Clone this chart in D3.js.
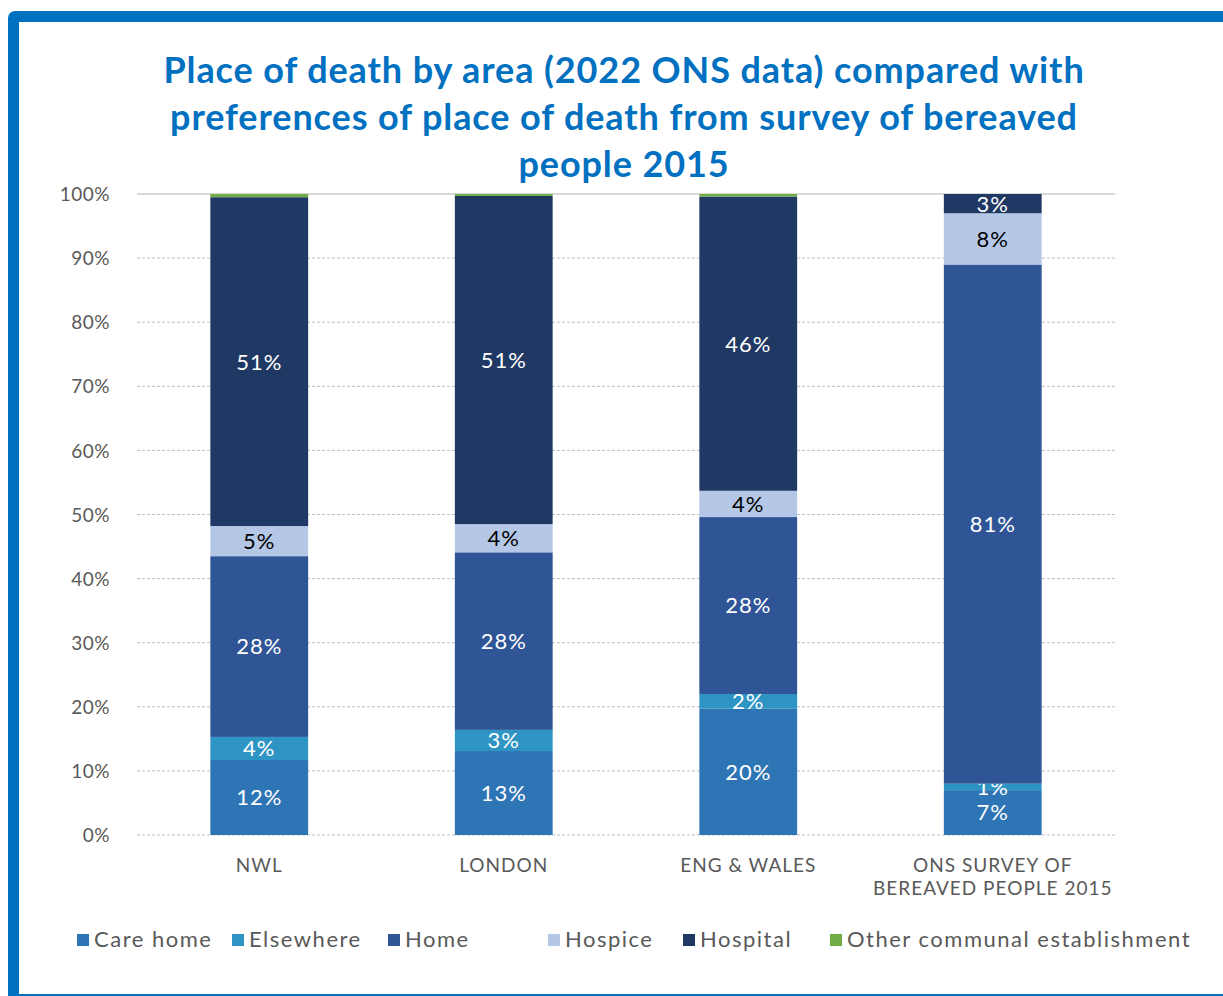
<!DOCTYPE html>
<html><head><meta charset="utf-8">
<script src="https://cdn.jsdelivr.net/npm/d3@7"></script>
<style>body{margin:0;background:#fff;} svg{display:block;}</style>
</head><body><svg id="c" width="1223" height="996"></svg>
<script>
const categories = ["NWL", "LONDON", "ENG & WALES", "ONS SURVEY OF|BEREAVED PEOPLE 2015"];
const seriesNames = ["Care home", "Elsewhere", "Home", "Hospice", "Hospital", "Other communal establishment"];
const careHome  = [11.7, 13.1, 19.7, 7.0];
const elsewhere = [3.6, 3.3, 2.3, 1.0];
const home      = [28.2, 27.7, 27.6, 81.0];
const hospice   = [4.7, 4.4, 4.1, 8.0];
const hospital  = [51.3, 51.2, 45.9, 3.0];
const other     = [0.5, 0.3, 0.4, 0.0];
const labelsShown = [true, true, true, true, true, false];
const yTicks = [0, 10, 20, 30, 40, 50, 60, 70, 80, 90, 100];
const titleLines = ["Place of death by area (2022 ONS data) compared with", "preferences of place of death from survey of bereaved", "people 2015"];

const colors = ["#2E75B6", "#2E94C4", "#2F5597", "#B4C7E7", "#203864", "#70AD47"];
const labelColors = ["#fff", "#fff", "#fff", "#000", "#fff", "#fff"];
const seriesVals = [careHome, elsewhere, home, hospice, hospital, other];

const svg = d3.select("#c");
const FONT = "Lato, 'Open Sans', sans-serif";

// frame
svg.append("rect").attr("x", 8).attr("y", 11).attr("width", 1400).attr("height", 994).attr("rx", 7).attr("fill", "#0070C0");
svg.append("rect").attr("x", 19).attr("y", 22).attr("width", 1400).attr("height", 972).attr("fill", "#fff");

// title
const title = svg.append("text").attr("text-anchor", "middle").attr("font-family", FONT)
  .attr("font-weight", "bold").attr("font-size", 36).attr("letter-spacing", 0.9).attr("fill", "#0070C0");
const titleY = [83, 130, 177];
titleLines.forEach((t, i) => title.append("tspan").attr("x", 624).attr("y", titleY[i]).text(t));

const data = categories.map((c, i) => {
  const o = {cat: c};
  seriesNames.forEach((s, j) => o[s] = seriesVals[j][i]);
  return o;
});
const stack = d3.stack().keys(seriesNames)(data);

const x = d3.scaleBand().domain(categories).range([137, 1115]).paddingInner(0.6).paddingOuter(0.3);
const y = d3.scaleLinear().domain([0, 100]).range([835, 194]);

// gridlines
const grid = svg.append("g");
yTicks.forEach(t => {
  grid.append("line").attr("x1", 137).attr("x2", 1115).attr("y1", y(t)).attr("y2", y(t))
    .attr("stroke", t === 100 ? "#d9d9d9" : "#bfbfbf").attr("stroke-width", t === 100 ? 2 : 1)
    .attr("stroke-dasharray", t === 100 ? null : "3,2");
});

// y axis labels
const yAxis = d3.axisLeft(y).tickValues(yTicks).tickFormat(d => d + "%").tickSize(0).tickPadding(0);
const ya = svg.append("g").attr("transform", "translate(110,0)").call(yAxis);
ya.select(".domain").remove();
ya.selectAll("text").attr("font-family", FONT).attr("font-size", 19).attr("letter-spacing", 0.5)
  .attr("fill", "#595959").attr("dy", "0.35em");

// bars
stack.forEach((layer, j) => {
  const g = svg.append("g");
  g.selectAll("rect").data(layer).join("rect")
    .attr("x", d => x(d.data.cat)).attr("width", x.bandwidth())
    .attr("y", d => y(d[1])).attr("height", d => Math.max(0, y(d[0]) - y(d[1])))
    .attr("fill", colors[j]);
  if (labelsShown[j]) {
    g.selectAll("text").data(layer.filter(d => d[1] - d[0] > 0)).join("text")
      .attr("x", d => x(d.data.cat) + x.bandwidth() / 2)
      .attr("y", d => (y(d[0]) + y(d[1])) / 2)
      .attr("dy", "0.36em").attr("text-anchor", "middle")
      .attr("font-family", FONT).attr("font-size", 22).attr("letter-spacing", 1)
      .attr("fill", labelColors[j])
      .text(d => Math.round(d[1] - d[0]) + "%");
  }
});

// x labels
categories.forEach(c => {
  const t = svg.append("text").attr("text-anchor", "middle").attr("font-family", FONT)
    .attr("font-size", 19).attr("letter-spacing", 1).attr("fill", "#595959");
  c.split("|").forEach((l, i) => t.append("tspan").attr("x", x(c) + x.bandwidth() / 2).attr("y", 872 + i * 23).text(l));
});

// legend
const legX = [77, 232, 388, 548, 683, 830];
seriesNames.forEach((s, i) => {
  svg.append("rect").attr("x", legX[i]).attr("y", 934).attr("width", 12).attr("height", 12).attr("fill", colors[i]);
  svg.append("text").attr("x", legX[i] + 17).attr("y", 947).attr("font-family", FONT)
    .attr("font-size", 22).attr("letter-spacing", 1.5).attr("fill", "#595959").text(s);
});
</script></body></html>
